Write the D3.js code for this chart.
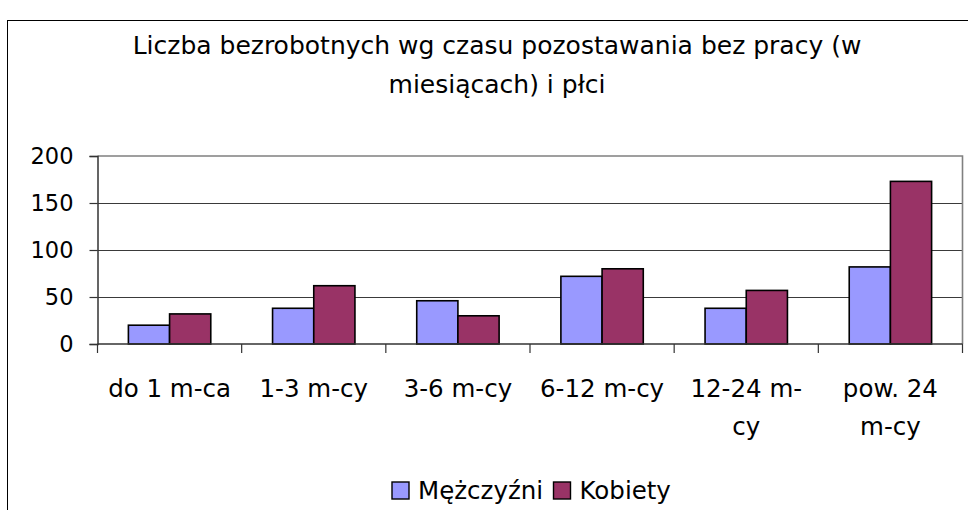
<!DOCTYPE html>
<html>
<head>
<meta charset="utf-8">
<script src="https://cdn.jsdelivr.net/npm/d3@7"></script>
<style>
  body { margin: 0; background: #fff; }
  svg { display: block; font-family: "DejaVu Sans", sans-serif; }
</style>
</head>
<body>
<div id="chart"></div>
<script>
// data
let categories = ['do 1 m-ca', '1-3 m-cy', '3-6 m-cy', '6-12 m-cy', '12-24 m-\ncy', 'pow. 24\nm-cy'];
let seriesNames = ['Mężczyźni', 'Kobiety'];
let men = [20, 38, 46, 72, 38, 82];
let women = [32, 62, 30, 80, 57, 173];
let yTicks = [0, 50, 100, 150, 200];
let titleLines = ['Liczba bezrobotnych wg czasu pozostawania bez pracy (w', 'miesiącach) i płci'];

let colors = ['#9999ff', '#993366'];
let width = 968, height = 510;
let plot = { left: 97.5, right: 962.5, top: 156, bottom: 344 };

let svg = d3.select('#chart').append('svg')
  .attr('width', width)
  .attr('height', height);

// outer chart border (right and bottom edges fall outside the window)
svg.append('rect')
  .attr('x', 7.5).attr('y', 20.5)
  .attr('width', 1000).attr('height', 600)
  .attr('fill', 'none').attr('stroke', '#000').attr('stroke-width', 1);

// title
svg.append('g').selectAll('text')
  .data(titleLines)
  .enter().append('text')
  .attr('x', 497)
  .attr('y', (d, i) => 54 + i * 39)
  .attr('text-anchor', 'middle')
  .attr('font-size', 25)
  .attr('fill', '#000')
  .text(d => d);

let x0 = d3.scaleBand()
  .domain(categories)
  .range([plot.left, plot.right])
  .paddingInner(0).paddingOuter(0);

let x1 = d3.scaleBand()
  .domain(seriesNames)
  .range([0, x0.bandwidth()])
  .paddingInner(0).paddingOuter(0.75);

let y = d3.scaleLinear()
  .domain([0, 200])
  .range([plot.bottom, plot.top]);

// gridlines
svg.append('g').selectAll('line')
  .data(yTicks.filter(d => d > 0 && d < 200))
  .enter().append('line')
  .attr('x1', plot.left).attr('x2', plot.right)
  .attr('y1', d => Math.round(y(d)) + 0.5)
  .attr('y2', d => Math.round(y(d)) + 0.5)
  .attr('stroke', '#3a3a3a').attr('stroke-width', 1.2);

// plot area border (top and right, grey)
svg.append('path')
  .attr('d', `M${plot.left},${plot.top}H${plot.right}V${plot.bottom}`)
  .attr('fill', 'none').attr('stroke', '#808080').attr('stroke-width', 1.6);

// bars
let data = categories.map((c, i) => ({ cat: c, values: [men[i], women[i]] }));

let groups = svg.append('g').selectAll('g')
  .data(data)
  .enter().append('g')
  .attr('transform', d => `translate(${x0(d.cat)},0)`);

groups.selectAll('rect')
  .data(d => d.values.map((v, i) => ({ name: seriesNames[i], value: v, i: i })))
  .enter().append('rect')
  .attr('x', d => x1(d.name))
  .attr('y', d => y(d.value))
  .attr('width', x1.bandwidth())
  .attr('height', d => y(0) - y(d.value))
  .attr('fill', d => colors[d.i])
  .attr('stroke', '#000').attr('stroke-width', 1.6);

// y axis
let yAxis = svg.append('g')
  .attr('transform', `translate(${plot.left},0)`)
  .call(d3.axisLeft(y).tickValues(yTicks).tickSize(8).tickPadding(16));
yAxis.select('.domain').attr('stroke', '#333').attr('stroke-width', 1.5);
yAxis.selectAll('.tick line').attr('stroke', '#333').attr('stroke-width', 1.2);
yAxis.selectAll('.tick text')
  .attr('font-size', 22.5)
  .attr('font-family', '"DejaVu Sans", sans-serif')
  .attr('fill', '#000');

// x axis with ticks between categories
let xAxis = svg.append('g')
  .attr('transform', `translate(0,${plot.bottom})`);
xAxis.append('line')
  .attr('x1', plot.left).attr('x2', plot.right)
  .attr('stroke', '#333').attr('stroke-width', 1.5);
let edges = categories.map(c => x0(c)).concat([x0(categories[categories.length - 1]) + x0.bandwidth()]);
xAxis.selectAll('.edge')
  .data(edges)
  .enter().append('line')
  .attr('class', 'edge')
  .attr('x1', d => d).attr('x2', d => d)
  .attr('y1', 0).attr('y2', 9)
  .attr('stroke', '#333').attr('stroke-width', 1.2);

let labels = xAxis.selectAll('.lab')
  .data(categories)
  .enter().append('text')
  .attr('class', 'lab')
  .attr('text-anchor', 'middle')
  .attr('font-size', 24.5)
  .attr('fill', '#000');
labels.selectAll('tspan')
  .data(d => d.split('\n').map(s => ({ s: s, c: d })))
  .enter().append('tspan')
  .attr('x', d => x0(d.c) + x0.bandwidth() / 2)
  .attr('y', (d, i) => 52.5 + i * 38)
  .text(d => d.s);

// legend
let legend = svg.append('g').attr('transform', 'translate(0,499)');
let lx = [392, 553.5];
seriesNames.forEach((name, i) => {
  legend.append('rect')
    .attr('x', lx[i]).attr('y', -17)
    .attr('width', 17).attr('height', 17)
    .attr('fill', colors[i])
    .attr('stroke', '#000').attr('stroke-width', 1.4);
  legend.append('text')
    .attr('x', lx[i] + 26).attr('y', 0)
    .attr('font-size', 24.5)
    .attr('fill', '#000')
    .text(name);
});
</script>
</body>
</html>
